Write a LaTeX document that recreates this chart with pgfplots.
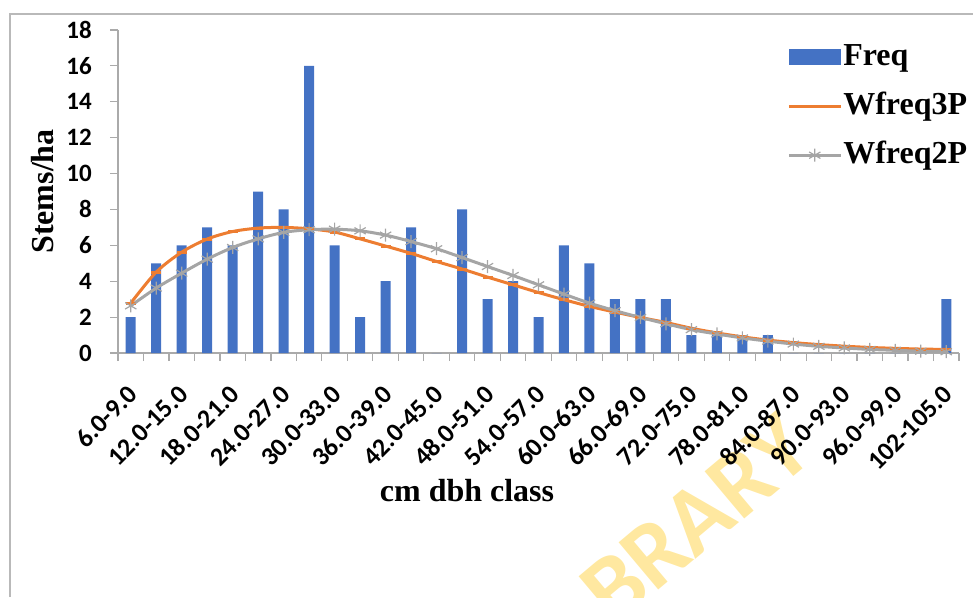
\documentclass[border=0pt]{standalone}
\usepackage{pgfplots}
\pgfplotsset{compat=1.18}
\usepackage{fontspec}
\setmainfont{Liberation Serif}
\newfontfamily\calib{Carlito}
\definecolor{barblue}{RGB}{68,114,196}
\definecolor{xlorange}{RGB}{237,125,49}
\definecolor{xlgrey}{RGB}{165,165,165}
\definecolor{axgrey}{RGB}{170,170,170}
\definecolor{frgrey}{RGB}{185,185,185}
\definecolor{wmark}{RGB}{255,232,160}
\begin{document}
\begin{tikzpicture}
\useasboundingbox (-118pt,-244pt) rectangle (855pt,353pt);
\draw[frgrey, line width=1.2pt] (-108pt,-244pt) -- (-108pt,339pt) -- (855pt,339pt);
\node[text=wmark, font=\calib\bfseries\fontsize{95}{95}\selectfont, rotate=40] at (578pt,-166pt) {BRARY};
\begin{axis}[
  at={(0pt,0pt)}, anchor=south west,
  scale only axis, width=841pt, height=323pt,
  xmin=-0.5, xmax=32.5, ymin=0, ymax=18,
  axis x line=bottom, axis y line=left,
  axis line style={-, axgrey, line width=1.2pt},
  tick style={axgrey, line width=1.2pt},
  tick align=outside,
  major tick length=8pt, minor tick length=8pt,
  ytick={0,2,...,18},
  xtick={0,2,...,32},
  major x tick style={draw=none},
  minor xtick={-0.5,0.5,...,32.5},
  xticklabels={6.0-9.0,12.0-15.0,18.0-21.0,24.0-27.0,30.0-33.0,36.0-39.0,42.0-45.0,48.0-51.0,54.0-57.0,60.0-63.0,66.0-69.0,72.0-75.0,78.0-81.0,84.0-87.0,90.0-93.0,96.0-99.0,102-105.0},
  /pgf/number format/assume math mode=true,
  xticklabel style={font=\calib\bfseries\fontsize{26}{26}\selectfont, xshift=2pt, yshift=-29pt, rotate=45, anchor=east, inner sep=0pt},
  yticklabel style={font=\calib\bfseries\fontsize{25}{25}\selectfont, anchor=east, inner sep=0pt, xshift=-18pt},
  xlabel={cm dbh class},
  ylabel={Stems/ha},
  label style={font=\bfseries\fontsize{32}{32}\selectfont},
  xlabel style={at={(axis description cs:0.415,-0.461)}, anchor=base},
  ylabel style={at={(axis description cs:-0.09,0.5)}, anchor=center},
  legend style={at={(axis description cs:0.792,0.969)}, anchor=north west, draw=none, fill=none,
    font=\bfseries\fontsize{32}{32}\selectfont, row sep=19pt,
    nodes={inner sep=1pt, text height=22pt, text depth=6pt}},
  legend cell align=left,
]
\addplot[ybar, bar width=10pt, fill=barblue, draw=none,
  legend image code/.code={\fill[barblue] (0pt,-8pt) rectangle (52pt,8pt);}]
  coordinates {(0,2) (1,5) (2,6) (3,7) (4,6) (5,9) (6,8) (7,16) (8,6) (9,2) (10,4) (11,7) (12,0) (13,8) (14,3) (15,4) (16,2) (17,6) (18,5) (19,3) (20,3) (21,3) (22,1) (23,1) (24,1) (25,1) (26,0) (27,0) (28,0) (29,0) (30,0) (31,0) (32,3)};
\addlegendentry{Freq}
\addplot[smooth, xlorange, line width=3pt, mark=-, mark size=5pt, mark options={line width=3pt},
  legend image code/.code={\draw[xlorange, line width=3pt] (0pt,0pt) -- (52pt,0pt);}]
  coordinates {(0,2.78) (1,4.51) (2,5.62) (3,6.35) (4,6.77) (5,6.96) (6,7.0) (7,6.92) (8,6.74) (9,6.36) (10,5.96) (11,5.55) (12,5.1) (13,4.68) (14,4.23) (15,3.8) (16,3.37) (17,2.97) (18,2.6) (19,2.28) (20,1.98) (21,1.7) (22,1.38) (23,1.12) (24,0.9) (25,0.72) (26,0.58) (27,0.47) (28,0.38) (29,0.31) (30,0.26) (31,0.22) (32,0.2)};
\addlegendentry{Wfreq3P}
\addplot[smooth, xlgrey, line width=3pt, mark=asterisk, mark size=6.5pt, mark options={line width=1.2pt},
  legend image code/.code={\draw[xlgrey, line width=3pt] (0pt,0pt) -- (52pt,0pt); \draw[xlgrey, line width=1.2pt] plot[mark=asterisk, mark size=6.5pt] coordinates {(26pt,0pt)};}]
  coordinates {(0,2.63) (1,3.62) (2,4.45) (3,5.23) (4,5.88) (5,6.36) (6,6.72) (7,6.87) (8,6.9) (9,6.81) (10,6.57) (11,6.21) (12,5.81) (13,5.32) (14,4.82) (15,4.32) (16,3.8) (17,3.28) (18,2.78) (19,2.36) (20,1.98) (21,1.63) (22,1.3) (23,1.06) (24,0.84) (25,0.66) (26,0.5) (27,0.37) (28,0.28) (29,0.2) (30,0.15) (31,0.1) (32,0.07)};
\addlegendentry{Wfreq2P}
\end{axis}
\end{tikzpicture}
\end{document}
